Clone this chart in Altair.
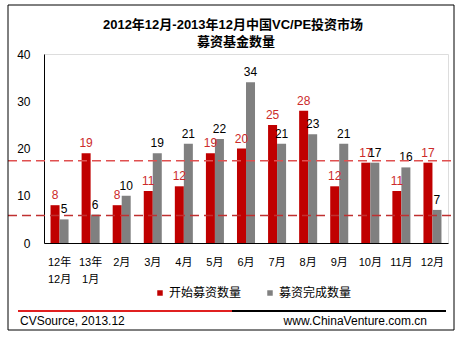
import altair as alt
import pandas as pd

categories = ["12年12月", "13年1月", "2月", "3月", "4月", "5月", "6月", "7月", "8月", "9月", "10月", "11月", "12月"]
started = [8, 19, 8, 11, 12, 19, 20, 25, 28, 12, 17, 11, 17]
completed = [5, 6, 10, 19, 21, 22, 34, 21, 23, 21, 17, 16, 7]
series_names = ["开始募资数量", "募资完成数量"]
ref_lines = [17.4, 5.8]
title_lines = ["2012年12月-2013年12月中国VC/PE投资市场", "募资基金数量"]
source_text = "CVSource, 2013.12"
site_text = "www.ChinaVenture.com.cn"

FONT = "Arial, 'Liberation Sans', 'Noto Sans CJK SC', sans-serif"
RED = "#c00000"
GRAY = "#808080"

rows = []
for c, a, b in zip(categories, started, completed):
    rows.append({"cat": c, "series": series_names[0], "value": a})
    rows.append({"cat": c, "series": series_names[1], "value": b})
df = pd.DataFrame(rows)

W, H = 404, 189

yscale = alt.Scale(domain=[0, 40], nice=False, zero=True)

x_enc = alt.X("cat:N", sort=categories, title=None,
              scale=alt.Scale(paddingInner=0.42, paddingOuter=0.21),
              axis=alt.Axis(labelAngle=0, ticks=False, domainColor="black", labelColor="black",
                            labelFontSize=11, labelFont=FONT, labelPadding=13, labelLineHeight=17,
                            labelOverlap=False, labelBaseline="top",
                            labelExpr="length(datum.label) > 3 ? [substring(datum.label,0,3), substring(datum.label,3)] : datum.label"))
y_enc = alt.Y("value:Q", title=None, scale=yscale,
              axis=alt.Axis(values=[0, 10, 20, 30, 40], ticks=False, grid=False, domainColor="black",
                            labelColor="black", labelFontSize=12, labelFont=FONT, labelPadding=14))
xoff = alt.XOffset("series:N", sort=series_names, scale=alt.Scale(paddingInner=0, paddingOuter=0))

base = alt.Chart(df)

bars = base.mark_bar().encode(
    x=x_enc, y=y_enc, xOffset=xoff,
    color=alt.Color("series:N", sort=series_names,
                    scale=alt.Scale(domain=series_names, range=[RED, GRAY]),
                    legend=alt.Legend(title=None, orient="none", legendX=110, legendY=233,
                                      direction="horizontal", symbolType="square", symbolSize=30,
                                      symbolStrokeWidth=0, labelFontSize=12, labelFont=FONT,
                                      labelColor="black", columnPadding=22, labelOffset=3)),
)

lab_red = base.transform_filter(alt.datum.series == series_names[0]).mark_text(
    baseline="alphabetic", dy=-6, fontSize=12, font=FONT, color="#cc2a2a"
).encode(x=alt.X("cat:N", sort=categories), y=alt.Y("value:Q", scale=yscale), xOffset=xoff, text="value:Q")

lab_gray = base.transform_filter(alt.datum.series == series_names[1]).mark_text(
    baseline="alphabetic", dy=-6, fontSize=12, font=FONT, color="black"
).encode(x=alt.X("cat:N", sort=categories), y=alt.Y("value:Q", scale=yscale), xOffset=xoff, text="value:Q")

ref_hi = alt.Chart(pd.DataFrame({"value": [ref_lines[0]]})).mark_rule(
    strokeDash=[9, 5], strokeWidth=1.5, color="#e05050").encode(
    y=alt.Y("value:Q", scale=yscale), x=alt.value(-36), x2=alt.value(410))
ref_lo = alt.Chart(pd.DataFrame({"value": [ref_lines[1]]})).mark_rule(
    strokeDash=[9, 5], strokeWidth=1.5, color="#c03030").encode(
    y=alt.Y("value:Q", scale=yscale), x=alt.value(-36), x2=alt.value(410))

one = pd.DataFrame({"a": [0]})
border = alt.Chart(one).mark_rect(fill=None, stroke="black", strokeWidth=1).encode(
    x=alt.value(-36), x2=alt.value(410), y=alt.value(-49), y2=alt.value(276))

title1 = alt.Chart(pd.DataFrame({"t": [title_lines[0]]})).mark_text(
    fontSize=13, fontWeight="bold", font=FONT, color="black", baseline="middle", align="center").encode(
    x=alt.value(189), y=alt.value(-29), text="t:N")
title2 = alt.Chart(pd.DataFrame({"t": [title_lines[1]]})).mark_text(
    fontSize=13, fontWeight="bold", font=FONT, color="black", baseline="middle", align="center").encode(
    x=alt.value(192), y=alt.value(-12), text="t:N")

line_red = alt.Chart(one).mark_rule(color="#e02020", strokeWidth=2).encode(
    x=alt.value(-26), x2=alt.value(188), y=alt.value(257))
line_black = alt.Chart(one).mark_rule(color="black", strokeWidth=2).encode(
    x=alt.value(188), x2=alt.value(402), y=alt.value(257))

foot_left = alt.Chart(pd.DataFrame({"t": [source_text]})).mark_text(
    fontSize=12, font=FONT, color="black", align="left", baseline="middle").encode(
    x=alt.value(-24), y=alt.value(267), text="t:N")
foot_right = alt.Chart(pd.DataFrame({"t": [site_text]})).mark_text(
    fontSize=12, font=FONT, color="black", align="right", baseline="middle").encode(
    x=alt.value(383), y=alt.value(267), text="t:N")

chart = alt.layer(bars, lab_red, lab_gray, ref_hi, ref_lo, border, title1, title2, line_red, line_black,
                  foot_left, foot_right).properties(
    width=W, height=H,
    autosize=alt.AutoSizeParams(type="none"),
    padding={"left": 44, "top": 54, "right": 11, "bottom": 95},
).configure_view(stroke=None).configure(background="white")

chart.save("out.html", embed_options={"renderer": "svg", "actions": False})
